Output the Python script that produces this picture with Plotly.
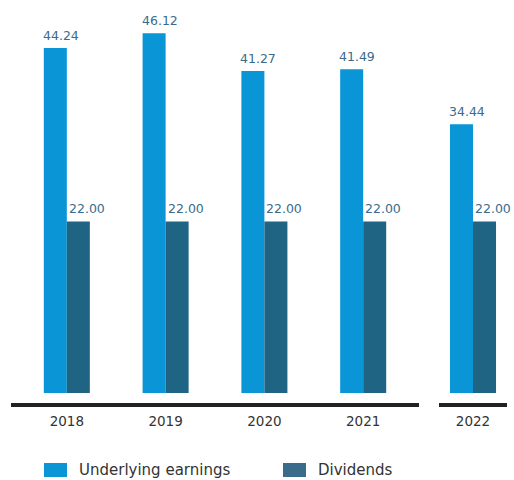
import plotly.graph_objects as go
from plotly.subplots import make_subplots

years_main = ["2018", "2019", "2020", "2021"]
years_last = ["2022"]
earnings_main = [44.24, 46.12, 41.27, 41.49]
dividends_main = [22.00, 22.00, 22.00, 22.00]
earnings_last = [34.44]
dividends_last = [22.00]

EARN_COLOR = "#0995D6"
DIV_COLOR = "#1F6483"
LABEL_COLOR = "#3A6B8C"
FONT = "DejaVu Sans"

fig = make_subplots(rows=1, cols=2, shared_yaxes=True,
                    column_widths=[408, 68], horizontal_spacing=20 / 514)

for col, cats, earn, div in [(1, years_main, earnings_main, dividends_main),
                             (2, years_last, earnings_last, dividends_last)]:
    fig.add_trace(go.Bar(x=cats, y=earn, name="Underlying earnings",
                         marker=dict(color=EARN_COLOR, line_width=0),
                         showlegend=False), row=1, col=col)
    fig.add_trace(go.Bar(x=cats, y=div, name="Dividends",
                         marker=dict(color=DIV_COLOR, line_width=0),
                         showlegend=False), row=1, col=col)
    xref = "x" if col == 1 else "x2"
    yref = "y" if col == 1 else "y2"
    # value labels, placed by category index over each bar pair
    for i, (e, d) in enumerate(zip(earn, div)):
        fig.add_annotation(x=i, y=e, xref=xref, yref=yref, text=f"{e:.2f}",
                           showarrow=False, xanchor="left", yanchor="bottom",
                           xshift=-26, yshift=3,
                           font=dict(family=FONT, size=12.5, color=LABEL_COLOR))
        fig.add_annotation(x=i, y=d, xref=xref, yref=yref, text=f"{d:.2f}",
                           showarrow=False, xanchor="left", yanchor="bottom",
                           xshift=0, yshift=3,
                           font=dict(family=FONT, size=12.5, color=LABEL_COLOR))

axis_common = dict(type="category", showline=True, linewidth=4,
                   linecolor="#222222", ticks="", showgrid=False, zeroline=False,
                   ticklabelstandoff=3,
                   tickfont=dict(family=FONT, size=13.5, color="#333333"))
fig.update_xaxes(**axis_common)
fig.update_xaxes(domain=[11 / 514, 419 / 514], range=[-0.565, 3.565], row=1, col=1)
fig.update_xaxes(domain=[439 / 514, 507 / 514], range=[-0.344, 0.344], row=1, col=2)
fig.update_yaxes(showline=False, showgrid=False, zeroline=False,
                 showticklabels=False, ticks="", range=[-1.28, 50.38])

# Custom legend below the chart
legend_items = [("Underlying earnings", "#0995D6", 44), ("Dividends", "#3A6B8B", 283)]
for label, color, px in legend_items:
    fig.add_shape(type="rect", xref="paper", yref="paper",
                  x0=px / 514, x1=(px + 23) / 514,
                  y0=(403 - 477) / 403, y1=(403 - 463) / 403,
                  fillcolor=color, line_width=0)
    fig.add_annotation(xref="paper", yref="paper", x=(px + 33) / 514,
                       y=(403 - 470) / 403, text=label, showarrow=False,
                       xanchor="left", yanchor="middle",
                       font=dict(family=FONT, size=15, color="#333333"))

fig.update_layout(
    width=514, height=480,
    margin=dict(l=0, r=0, t=0, b=77),
    barmode="group", bargap=0.534, bargroupgap=0,
    plot_bgcolor="white", paper_bgcolor="white",
    showlegend=False,
)

fig.write_html("out.html")
